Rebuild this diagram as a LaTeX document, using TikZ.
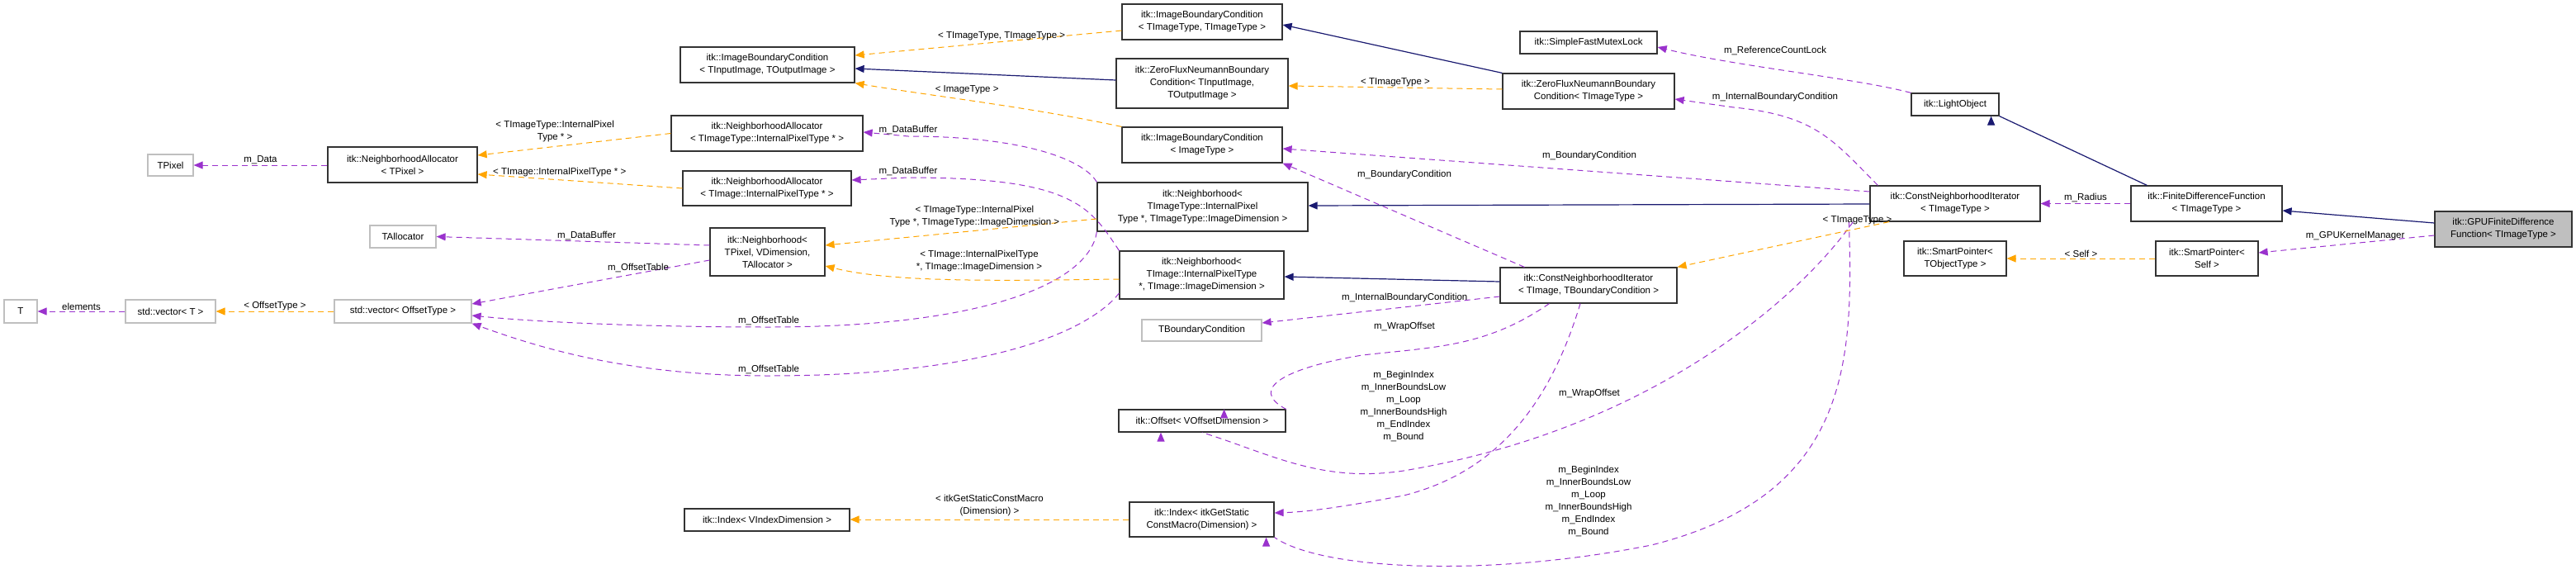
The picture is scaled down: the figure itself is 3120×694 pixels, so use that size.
\documentclass[tikz,border=0pt]{standalone}
\usepackage{fontspec}
\setmainfont{Liberation Sans}
\usetikzlibrary{arrows.meta}
\definecolor{pur}{HTML}{9A32CD}
\definecolor{org}{HTML}{FFA500}
\definecolor{nav}{HTML}{191970}
\newcommand\nd[7]{\node[#1,minimum width={(#5)-(#3)},minimum height={(#6)-(#4)}] (#2) at ({((#3)+(#5))/2},{((#4)+(#6))/2}) {#7};}
\tikzset{
  box/.style={draw=black!80,line width=1.2pt,fill=white,inner sep=1pt,align=center,font=\fontsize{11.5}{15}\selectfont},
  gbox/.style={box,draw=black!25},
  cur/.style={box,fill=black!25},
  use/.style={draw=pur,dashed,line width=1pt,dash pattern=on 7pt off 5pt,-{Triangle[length=11pt,width=9pt]}},
  tpl/.style={draw=org,line width=1pt,dash pattern=on 7pt off 5pt,-{Triangle[length=11pt,width=9pt]}},
  inh/.style={draw=nav,line width=1.2pt,-{Triangle[length=11pt,width=9pt]}},
  lbl/.style={font=\fontsize{11.5}{15}\selectfont,align=center,inner sep=1pt}
}
\begin{document}
\begin{tikzpicture}[x=1pt,y=-1pt]
\useasboundingbox (0,0) rectangle (3120,694);
% nodes
\nd{gbox}{tpixel}{179}{187}{234}{213}{TPixel}
\nd{box}{naTP}{397}{178}{578}{221}{itk::NeighborhoodAllocator\\< TPixel >}
\nd{gbox}{talloc}{448}{273}{528}{300}{TAllocator}
\nd{gbox}{T}{5}{363}{45}{391}{T}
\nd{gbox}{vecT}{152}{363}{261}{391}{std::vector< T >}
\nd{gbox}{vecO}{405}{363}{571}{391}{std::vector< OffsetType >}
\nd{box}{ibcIO}{824}{57}{1035}{100}{itk::ImageBoundaryCondition\\< TInputImage, TOutputImage >}
\nd{box}{naTIT}{813}{140}{1045}{183}{itk::NeighborhoodAllocator\\< TImageType::InternalPixelType * >}
\nd{box}{naTI}{827}{207}{1031}{249}{itk::NeighborhoodAllocator\\< TImage::InternalPixelType * >}
\nd{box}{nbTP}{860}{276}{999}{334}{itk::Neighborhood<\\TPixel, VDimension,\\TAllocator >}
\nd{box}{idxV}{829}{616}{1029}{643}{itk::Index< VIndexDimension >}
\nd{box}{ibcTT}{1359}{5}{1553}{48}{itk::ImageBoundaryCondition\\< TImageType, TImageType >}
\nd{box}{zfIO}{1352}{71}{1560}{131}{itk::ZeroFluxNeumannBoundary\\Condition< TInputImage,\\TOutputImage >}
\nd{box}{ibcI}{1359}{154}{1553}{197}{itk::ImageBoundaryCondition\\< ImageType >}
\nd{box}{nbTIT}{1329}{221}{1584}{280}{itk::Neighborhood<\\TImageType::InternalPixel\\Type *, TImageType::ImageDimension >}
\nd{box}{mutex}{1841}{38}{2007}{65}{itk::SimpleFastMutexLock}
\nd{box}{zfT}{1820}{89}{2028}{132}{itk::ZeroFluxNeumannBoundary\\Condition< TImageType >}
\nd{box}{nbTI}{1356}{304}{1555}{362}{itk::Neighborhood<\\TImage::InternalPixelType\\*, TImage::ImageDimension >}
\nd{gbox}{tbc}{1383}{387}{1528}{413}{TBoundaryCondition}
\nd{box}{offs}{1355}{496}{1557}{523}{itk::Offset< VOffsetDimension >}
\nd{box}{idxG}{1368}{608}{1543}{650}{itk::Index< itkGetStatic\\ConstMacro(Dimension) >}
\nd{box}{cniB}{1817}{324}{2031}{367}{itk::ConstNeighborhoodIterator\\< TImage, TBoundaryCondition >}
\nd{box}{light}{2315}{113}{2421}{140}{itk::LightObject}
\nd{box}{cniT}{2265}{225}{2471}{268}{itk::ConstNeighborhoodIterator\\< TImageType >}
\nd{box}{fdf}{2581}{225}{2764}{268}{itk::FiniteDifferenceFunction\\< TImageType >}
\nd{cur}{gpu}{2949}{256}{3115}{299}{itk::GPUFiniteDifference\\Function< TImageType >}
\nd{box}{spT}{2306}{292}{2430}{334}{itk::SmartPointer<\\TObjectType >}
\nd{box}{spS}{2611}{292}{2735}{334}{itk::SmartPointer<\\Self >}
% edges left part
\draw[use] (naTP.west |- tpixel) -- node[lbl,above]{m\_Data} (tpixel);
\draw[tpl] (naTIT.west) -- node[lbl,above=4pt,pos=0.6]{< TImageType::InternalPixel\\Type * >} (naTP.east |- 0,188);
\draw[tpl] (naTI.west) -- node[lbl,above=2pt,pos=0.6]{< TImage::InternalPixelType * >} (naTP.east |- 0,211);
\draw[use] (nbTP.west |- 0,297) -- node[lbl,above,pos=0.45]{m\_DataBuffer} (talloc.east);
\draw[use] (nbTP.west |- 0,315) -- node[lbl,above,pos=0.3]{m\_OffsetTable} (vecO.east |- 0,368);
\draw[use] (vecT.west) -- node[lbl,above]{elements} (T.east);
\draw[tpl] (vecO.west) -- node[lbl,above]{< OffsetType >} (vecT.east);
\draw[use] (nbTIT.south west) .. controls (1320,340) and (1200,396) .. (931,396) node[lbl,above=1pt]{m\_OffsetTable} .. controls (780,396) and (650,390) .. (vecO.east |- 0,382);
\draw[use] (nbTI.west |- 0,355) .. controls (1320,400) and (1200,455) .. (931,455) node[lbl,above=1pt]{m\_OffsetTable} .. controls (760,455) and (650,420) .. (vecO.south east);
% middle
\draw[tpl] (ibcTT.west |- 0,37) -- node[lbl,above,pos=0.45]{< TImageType, TImageType >} (ibcIO.east |- 0,67);
\draw[inh] (zfIO.west |- 0,97) -- (ibcIO.east |- 0,83);
\draw[tpl] (ibcI.north west) .. controls (1250,130) and (1120,115) .. (ibcIO.south east) node[lbl,pos=0.55,above=6pt]{< ImageType >};
\draw[use] (nbTIT.north west) .. controls (1310,190) and (1230,165) .. (1100,165) node[lbl,above=1pt]{m\_DataBuffer} -- (naTIT.east |- 0,160);
\draw[use] (nbTI.north west) .. controls (1320,250) and (1300,215) .. (1100,215) node[lbl,above=1pt]{m\_DataBuffer} -- (naTI.east |- 0,218);
\draw[tpl] (nbTIT.west |- 0,265) -- node[lbl,above=3pt,pos=0.45]{< TImageType::InternalPixel\\Type *, TImageType::ImageDimension >} (nbTP.east |- 0,297);
\draw[tpl] (nbTI.west |- 0,338) .. controls (1200,340) and (1080,342) .. (nbTP.east |- 0,322);
\node[lbl] (l14) at (1186,316) {< TImage::InternalPixelType\\*, TImage::ImageDimension >};
\draw[tpl] (idxG.west |- 0,629) -- node[lbl,above=3pt]{< itkGetStaticConstMacro\\(Dimension) >} (idxV.east |- 0,629);
% right part
\draw[inh] (zfT.north west) -- (ibcTT.east |- 0,30);
\draw[tpl] (zfT.west |- 0,108) -- node[lbl,above]{< TImageType >} (zfIO.east |- 0,104);
\draw[use] (light.north west) .. controls (2250,95) and (2100,80) .. (mutex.east |- 0,57);
\node[lbl] (l19) at (2150,61) {m\_ReferenceCountLock};
\draw[use] (cniT.north west) ++(10,0) coordinate (c20) .. controls (2220,170) and (2200,140) .. (2100,130) -- (zfT.east |- 0,120);
\node[lbl] (l20) at (2150,118) {m\_InternalBoundaryCondition};
\draw[use] (cniT.west |- 0,232) -- (ibcI.east |- 0,180);
\node[lbl] (l21) at (1925,189) {m\_BoundaryCondition};
\draw[use] (cniB.north west) ++(30,0) coordinate (c22) -- (ibcI.south east);
\node[lbl] (l22) at (1701,212) {m\_BoundaryCondition};
\draw[inh] (cniT.west |- 0,247) -- (nbTIT.east |- 0,249);
\draw[inh] (cniB.west |- 0,341) -- (nbTI.east |- 0,335);
\draw[use] (cniB.west |- 0,359) -- node[lbl,above=4pt,pos=0.4]{m\_InternalBoundaryCondition} (tbc.east |- 0,391);
\draw[use] (cniB.south west) ++(60,0) coordinate (c26) .. controls (1800,420) and (1740,420) .. (1650,430) .. controls (1560,445) and (1510,470) .. (offs.north east) ++(-75,0);
\node[lbl] (l26) at (1701,396) {m\_WrapOffset};
\draw[use] (cniB.south) ++(-10,0) coordinate (c28) .. controls (1880,480) and (1820,570) .. (1700,600) .. controls (1620,615) and (1580,620) .. (idxG.east |- 0,621);
\node[lbl] (l28) at (1700,492) {m\_BeginIndex\\m\_InnerBoundsLow\\m\_Loop\\m\_InnerBoundsHigh\\m\_EndIndex\\m\_Bound};
\draw[use] (cniT.south west) ++(-20,0) coordinate (c27) .. controls (2180,360) and (2000,520) .. (1700,570) .. controls (1600,585) and (1540,550) .. (offs.south) ++(-50,0);
\node[lbl] (l27) at (1925,477) {m\_WrapOffset};
\draw[use] (cniT.south west) ++(-25,0) coordinate (c29) .. controls (2245,440) and (2240,600) .. (2000,660) .. controls (1800,700) and (1600,690) .. (idxG.south east) ++(-10,0);
\node[lbl] (l29) at (1924,607) {m\_BeginIndex\\m\_InnerBoundsLow\\m\_Loop\\m\_InnerBoundsHigh\\m\_EndIndex\\m\_Bound};
\draw[tpl] (cniT.south) ++(-80,0) coordinate (c35) -- node[lbl,above=3pt,pos=0.15]{< TImageType >} (cniB.north east);
\draw[use] (fdf.west) -- node[lbl,above]{m\_Radius} (cniT.east);
\draw[inh] (fdf.north west) ++(20,0) coordinate (c31) -- (light.south east) ++(-10,0);
\draw[inh] (gpu.west |- 0,270) -- (fdf.east |- 0,255);
\draw[use] (gpu.west |- 0,285) -- node[lbl,above=2pt,pos=0.45]{m\_GPUKernelManager} (spS.east |- 0,306);
\draw[tpl] (spS.west |- 0,313) -- node[lbl,above]{< Self >} (spT.east |- 0,313);
\end{tikzpicture}
\end{document}
